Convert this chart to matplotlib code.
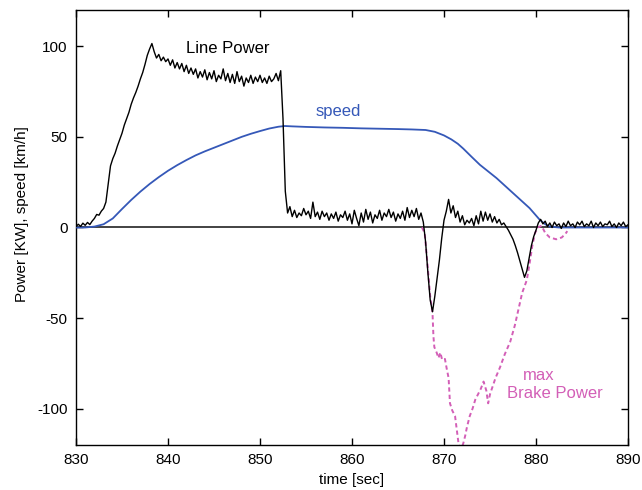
import numpy as np
import matplotlib
matplotlib.use("Agg")
import matplotlib.pyplot as plt

plt.rcParams['font.family'] = ['Liberation Sans', 'DejaVu Sans']
plt.rcParams['axes.unicode_minus'] = False

# ---------------- data ----------------
# Line power [kW], sampled every 0.25 s from 830 s to 890 s
line_t_start = 830.0
line_t_step = 0.25
line_power = [
    # 830.00 - 834.75
    0.5, 1.8, 0.6, 2.4, 1.2, 2.8, 1.6, 3.5, 5.0, 7.2, 6.8, 9.0, 10.5, 14.0, 24.0, 34.0, 38.0, 41.0, 45.0, 48.5,
    # 835.00 - 839.75
    52.0, 56.5, 60.0, 63.5, 68.0, 71.5, 74.5, 78.0, 82.0, 85.5, 90.0, 95.0, 98.5, 101.5, 97.0, 93.5, 95.5, 92.0, 94.0, 91.5,
    # 840.00 - 844.75
    93.0, 89.5, 92.5, 88.0, 91.0, 87.5, 90.5, 86.0, 89.5, 85.0, 88.0, 84.5, 87.5, 82.5, 86.0, 83.0, 87.0, 81.5, 85.5, 82.0,
    # 845.00 - 849.75
    86.5, 80.5, 84.0, 82.0, 87.5, 81.0, 85.0, 80.0, 84.5, 79.5, 86.0, 80.5, 83.5, 78.0, 82.5, 80.0, 84.0, 79.5, 83.0, 80.5,
    # 850.00 - 854.75
    84.0, 80.0, 82.5, 79.5, 83.5, 80.5, 82.0, 85.0, 81.0, 86.5, 60.0, 20.0, 8.0, 11.5, 6.0, 9.5, 5.5, 8.0, 6.5, 10.5,
    # 855.00 - 859.75
    7.0, 9.0, 5.0, 14.0, 6.0, 8.5, 4.5, 9.0, 6.0, 8.0, 4.0, 7.5, 5.0, 8.5, 3.5, 7.0, 5.5, 9.0, 4.0, 7.5,
    # 860.00 - 864.75
    2.0, 9.5, 5.0, 1.0, 8.0, 3.0, 10.0, 4.5, 8.5, 2.5, 7.0, 5.0, 9.5, 4.0, 8.0, 6.0, 10.0, 5.5, 8.5, 3.5,
    # 865.00 - 869.75
    7.5, 5.0, 9.0, 4.0, 11.0, 5.5, 9.5, 6.0, 10.5, 4.5, 8.0, 3.0, -8.0, -25.0, -40.0, -46.5, -38.0, -28.0, -18.0, -6.0,
    # 870.00 - 874.75
    4.0, 9.0, 15.5, 8.0, 12.0, 5.5, 9.0, 3.0, 6.5, 1.5, 4.0, 2.5, 5.0, 1.0, 6.5, 2.0, 9.0, 3.5, 8.5, 4.0,
    # 875.00 - 879.75
    7.5, 3.0, 6.0, 2.5, 4.5, 1.5, 2.5, 0.5, -1.5, -4.0, -6.5, -10.0, -14.0, -18.5, -23.0, -27.5, -24.0, -17.0, -10.0, -5.0,
    # 880.00 - 884.75
    -1.5, 2.5, 4.5, 2.0, 3.5, 0.5, 2.5, 0.0, 3.0, 1.0, 2.0, -0.5, 2.5, 0.5, 3.5, 1.0, 2.0, 0.0, 3.0, 1.5,
    # 885.00 - 890.00
    3.5, 0.5, 2.0, 1.0, 3.5, 0.0, 2.5, 1.0, 3.0, 0.5, 2.0, 1.5, 3.5, 0.5, 2.0, 0.0, 2.5, 1.0, 3.0, 0.5, 1.5,
]

# Speed [km/h]
speed_t = [830, 831, 832, 833, 834, 835, 836, 837, 838, 839, 840, 841, 842, 843, 844, 845, 846, 847,
           848, 849, 850, 851, 852, 852.7, 853.5, 855, 857, 859, 861, 863, 865, 866.5, 868, 869, 870,
           870.8, 871.5, 872.1, 873, 873.9, 875.7, 877.5, 879.3, 880.4, 881, 881.5, 882.5, 890]
speed_v = [0, 0, 0.5, 1.8, 5, 10.2, 15.2, 19.8, 24.0, 27.8, 31.3, 34.4, 37.2, 39.8, 42, 44, 46, 48,
           50, 51.7, 53.2, 54.6, 55.6, 56, 55.8, 55.5, 55.2, 55, 54.7, 54.5, 54.3, 54.1, 53.8, 52.8, 50.8,
           48.6, 46.2, 43.5, 39.0, 34.6, 27.3, 19, 10.7, 4.3, 1.8, 0.5, 0, 0]

# Max brake power [kW]
brake_t = [867.6, 867.9, 868.2, 868.5, 868.75, 868.85, 868.95, 869.2, 869.4, 869.6, 869.8, 870.1,
           870.3, 870.5, 870.65, 870.9, 871.2, 871.4, 871.6, 871.9, 872.1, 872.3, 872.5, 872.8, 873.1,
           873.4, 873.7, 874.0, 874.3, 874.6, 874.8, 875.0, 875.2, 875.6, 876.1, 876.6, 877.2, 877.7,
           878.1, 878.5, 879.0, 879.3, 879.6, 879.9, 880.2, 880.6, 881.0, 881.5, 882.2, 882.8, 883.2, 883.4]
brake_v = [0, -3, -20, -38, -47, -60, -66, -69, -72, -69, -73, -72.5,
           -78, -83, -97, -101, -104, -112, -120, -122, -119, -115, -110, -104, -100,
           -95, -92, -89, -85, -90, -97, -92, -89, -83, -77, -70, -63, -54,
           -45, -36, -29, -20, -10, -3, 0, 1, -3, -5.5, -6.5, -5.5, -3.5, -2]

x_ticks = [830, 840, 850, 860, 870, 880, 890]
y_ticks = [-100, -50, 0, 50, 100]

# ---------------- plot ----------------
line_t = line_t_start + line_t_step * np.arange(len(line_power))

fig = plt.figure(figsize=(6.42, 4.90), dpi=100)
ax = fig.add_axes([76 / 642, 45 / 490, 552 / 642, 435 / 490])

blue = '#3558b8'
magenta = '#d35fb7'

ax.axhline(0, color='#222222', lw=1.2, zorder=1)
ax.plot(brake_t, brake_v, color=magenta, lw=1.4, ls=(0, (2.2, 1.6)), zorder=2)
ax.plot(speed_t, speed_v, color=blue, lw=1.3, zorder=3)
ax.plot(line_t, line_power, color='black', lw=1.0, zorder=4)

ax.set_xlim(830, 890)
ax.set_ylim(-120, 120)
ax.set_xticks(x_ticks)
ax.set_yticks(y_ticks)
ax.tick_params(direction='in', top=True, right=True, length=5, width=1, labelsize=11, pad=6)
for s in ax.spines.values():
    s.set_linewidth(1.0)

ax.set_xlabel('time [sec]', fontsize=11, labelpad=4)
ax.set_ylabel('Power [KW], speed [km/h]', fontsize=11)
ax.yaxis.set_label_coords(-0.085, 0.53)

ax.text(842.0, 96.3, 'Line Power', color='black', fontsize=12, ha='left', va='baseline')
ax.text(856.0, 61.3, 'speed', color=blue, fontsize=12, ha='left', va='baseline')
ax.text(878.6, -84.1, 'max', color=magenta, fontsize=12, ha='left', va='baseline')
ax.text(876.85, -94.1, 'Brake Power', color=magenta, fontsize=12, ha='left', va='baseline')

fig.savefig('out.png', dpi=100)
